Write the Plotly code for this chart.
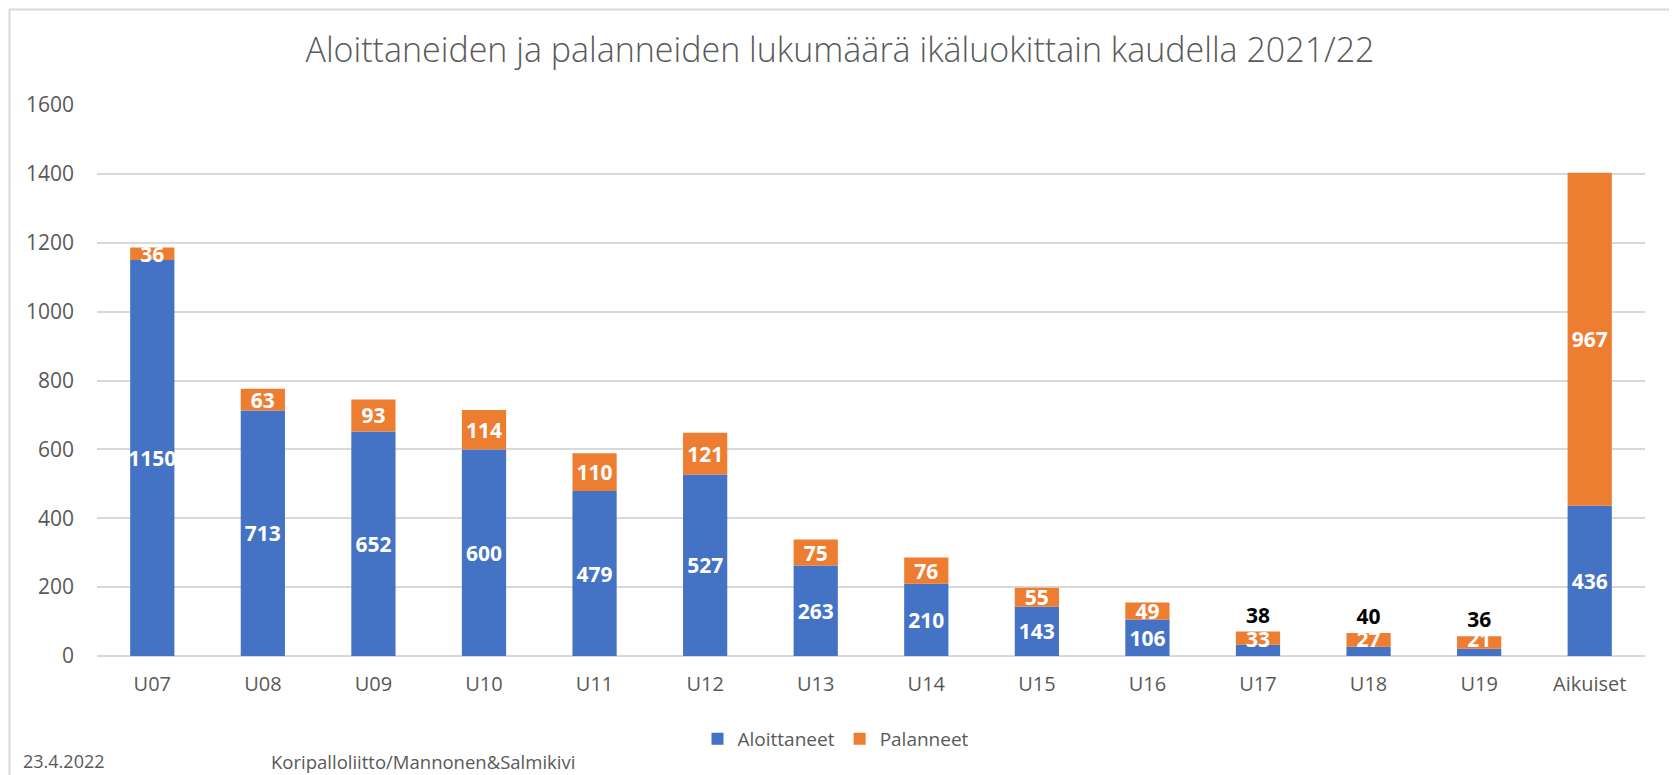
import plotly.graph_objects as go

categories = ["U07", "U08", "U09", "U10", "U11", "U12", "U13", "U14", "U15", "U16", "U17", "U18", "U19", "Aikuiset"]
aloittaneet = [1150, 713, 652, 600, 479, 527, 263, 210, 143, 106, 33, 27, 21, 436]
palanneet = [36, 63, 93, 114, 110, 121, 75, 76, 55, 49, 38, 40, 36, 967]
y_ticks = [0, 200, 400, 600, 800, 1000, 1200, 1400, 1600]

title_text = "Aloittaneiden ja palanneiden lukumäärä ikäluokittain kaudella 2021/22"
footer_date = "23.4.2022"
footer_source = "Koripalloliitto/Mannonen&Salmikivi"

BLUE = "#4472C4"
ORANGE = "#ED7D31"
GRID = "#D9D9D9"
TXT = "#595959"
FONT = "Open Sans"

outside_cats = {"U17", "U18", "U19"}
pal_pos = ["outside" if c in outside_cats else "inside" for c in categories]
pal_col = ["black" if c in outside_cats else "white" for c in categories]

fig = go.Figure()
# Aloittaneet bars (labels added by transparent overlays so they sit on top)
fig.add_trace(go.Bar(
    x=categories, y=aloittaneet, name="Aloittaneet",
    marker=dict(color=BLUE, line=dict(width=0)),
))
# Palanneet stacked on Aloittaneet
fig.add_trace(go.Bar(
    x=categories, y=palanneet, base=aloittaneet, name="Palanneet",
    marker=dict(color=ORANGE, line=dict(width=0)),
    text=[str(v) for v in palanneet], textposition=pal_pos,
    insidetextanchor="middle", textangle=0, constraintext="none",
    textfont=dict(family=FONT, size=21, color=pal_col, weight="bold"),
    cliponaxis=False,
))
# Aloittaneet labels on top layer (large bars centred, small bars from base)
for small, anchor in ((False, "middle"), (True, "start")):
    xs = [c for c in categories if (c in outside_cats) == small]
    ys = [v for c, v in zip(categories, aloittaneet) if (c in outside_cats) == small]
    fig.add_trace(go.Bar(
        x=xs, y=ys, name="Aloittaneet", showlegend=False,
        marker=dict(color="rgba(0,0,0,0)", line=dict(width=0)),
        text=[str(v) for v in ys], textposition="inside",
        insidetextanchor=anchor, textangle=0, constraintext="none",
        textfont=dict(family=FONT, size=21, color="white", weight="bold"),
        cliponaxis=False, hoverinfo="skip",
    ))

# page body offset (default 8px margin) compensation
OX, OY = 8, 8
W, H = 1677 - OX, 775 - OY
L_ref, R_ref, T_ref, B_ref = 97, 1645, 105, 656
L, T = L_ref - OX, T_ref - OY
R = W - (R_ref - OX)
B = H - (B_ref - OY)
pw, ph = W - L - R, H - T - B

def px_x(px):
    return (px - OX - L) / pw

def px_y(py):
    return (H - B - (py - OY)) / ph

fig.update_layout(
    width=W, height=H,
    barmode="overlay", bargap=0.6,
    plot_bgcolor="white", paper_bgcolor="white",
    margin=dict(l=L, r=R, t=T, b=B),
    font=dict(family=FONT, color=TXT, size=20),
    title=dict(text=title_text, x=px_x(840), xref="paper", xanchor="center",
               y=1 - (50 - OY) / H, yref="container", yanchor="middle",
               font=dict(family=FONT, size=34, color=TXT, weight=300)),
    legend=dict(orientation="h", x=px_x(836), xanchor="center",
                y=px_y(739), yanchor="middle",
                font=dict(family=FONT, size=19, color=TXT),
                itemwidth=30, traceorder="normal"),
    showlegend=True,
    annotations=[
        dict(text=footer_date, xref="paper", yref="paper", x=px_x(21), y=px_y(761),
             xanchor="left", yanchor="middle", showarrow=False,
             font=dict(family=FONT, size=18, color=TXT)),
        dict(text=footer_source, xref="paper", yref="paper", x=px_x(269), y=px_y(761),
             xanchor="left", yanchor="middle", showarrow=False,
             font=dict(family=FONT, size=18.5, color=TXT)),
    ],
    shapes=[
        dict(type="rect", xref="paper", yref="paper",
             x0=px_x(9.5), x1=px_x(1670), y0=px_y(820), y1=px_y(9.5),
             line=dict(color=GRID, width=2), fillcolor="rgba(0,0,0,0)", layer="below"),
    ],
)
fig.update_yaxes(range=[0, 1600], tickvals=y_ticks, ticktext=[str(v) for v in y_ticks],
                 showgrid=True, gridcolor=GRID, gridwidth=2,
                 zeroline=True, zerolinecolor=GRID, zerolinewidth=2,
                 showline=False, ticks="", ticklabelstandoff=22,
                 tickfont=dict(family=FONT, size=21, color=TXT))
fig.update_xaxes(showgrid=False, showline=False, ticks="", ticklabelstandoff=14,
                 tickfont=dict(family=FONT, size=20, color=TXT))

fig.write_html("out.html")
